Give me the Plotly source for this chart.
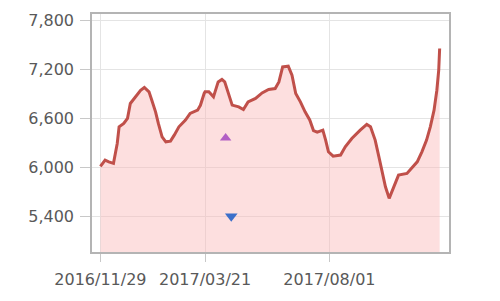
import plotly.graph_objects as go

dates = [
    "2016-11-29", "2016-12-04", "2016-12-08", "2016-12-13", "2016-12-17", "2016-12-19",
    "2016-12-24", "2016-12-28", "2016-12-31", "2017-01-04", "2017-01-11", "2017-01-15",
    "2017-01-20", "2017-01-23", "2017-01-27", "2017-01-30", "2017-02-03", "2017-02-07",
    "2017-02-12", "2017-02-16", "2017-02-21", "2017-02-28", "2017-03-05", "2017-03-13",
    "2017-03-16", "2017-03-20", "2017-03-21", "2017-03-25", "2017-03-30", "2017-04-04",
    "2017-04-08", "2017-04-11", "2017-04-15", "2017-04-19", "2017-04-26", "2017-05-01",
    "2017-05-06", "2017-05-14", "2017-05-21", "2017-05-28", "2017-06-04", "2017-06-08",
    "2017-06-12", "2017-06-18", "2017-06-22", "2017-06-26", "2017-07-01", "2017-07-06",
    "2017-07-11", "2017-07-15", "2017-07-19", "2017-07-25", "2017-07-28", "2017-07-31",
    "2017-08-05", "2017-08-13", "2017-08-18", "2017-08-25", "2017-09-03", "2017-09-10",
    "2017-09-14", "2017-09-19", "2017-09-23", "2017-09-27", "2017-09-30", "2017-10-04",
    "2017-10-09", "2017-10-14", "2017-10-23", "2017-10-29", "2017-11-03", "2017-11-08",
    "2017-11-13", "2017-11-17", "2017-11-21", "2017-11-24", "2017-11-26", "2017-11-27",
]
prices = [
    6010, 6087, 6066, 6047, 6292, 6496,
    6537, 6600, 6782, 6844, 6945, 6979,
    6925, 6823, 6680, 6537, 6373, 6312,
    6320, 6394, 6496, 6578, 6660, 6700,
    6760, 6905, 6925, 6925, 6863, 7047,
    7077, 7047, 6905, 6762, 6741, 6709,
    6802, 6844, 6912, 6954, 6966, 7047,
    7231, 7240, 7129, 6905, 6802, 6680,
    6580, 6450, 6430, 6455, 6333, 6189,
    6136, 6149, 6250, 6353, 6455, 6525,
    6496, 6333, 6128, 5924, 5760, 5618,
    5760, 5903, 5924, 6005, 6066, 6189,
    6333, 6496, 6700, 6945, 7190, 7457,
]

buy_dates = ["2017-04-12"]
buy_values = [6360]
sell_dates = ["2017-04-18"]
sell_values = [5400]

x_tickvals = ["2016-11-29", "2017-03-21", "2017-08-01"]
x_ticktext = ["2016/11/29", "2017/03/21", "2017/08/01"]
y_tickvals = [5400, 6000, 6600, 7200, 7800]
y_ticktext = ["5,400", "6,000", "6,600", "7,200", "7,800"]

fig = go.Figure()
fig.add_trace(go.Scatter(
    x=dates, y=prices, mode="lines",
    line=dict(color="#c0504a", width=3),
    fill="tozeroy", fillcolor="rgba(250,185,185,0.45)",
    hoverinfo="skip",
))
fig.add_trace(go.Scatter(
    x=buy_dates, y=buy_values, mode="markers",
    marker=dict(symbol="triangle-up", size=10, color="#b25fc4"),
))
fig.add_trace(go.Scatter(
    x=sell_dates, y=sell_values, mode="markers",
    marker=dict(symbol="triangle-down", size=11, color="#3b6fca"),
))

axis_font = dict(family="DejaVu Sans", size=16, color="#595959")
fig.update_layout(
    width=500, height=301,
    margin=dict(l=92, r=51, t=14, b=49),
    paper_bgcolor="white", plot_bgcolor="white",
    showlegend=False,
    xaxis=dict(
        range=["2016-11-20", "2017-12-07"],
        tickvals=x_tickvals, ticktext=x_ticktext,
        showgrid=True, gridcolor="#e4e4e4", gridwidth=1,
        ticks="outside", ticklen=8, tickcolor="#c8c8c8",
        ticklabelstandoff=4,
        showline=True, linecolor="#b4b4b4", linewidth=1.5, mirror=True,
        tickfont=axis_font, zeroline=False,
    ),
    yaxis=dict(
        range=[4960, 7880],
        tickvals=y_tickvals, ticktext=y_ticktext,
        showgrid=True, gridcolor="#e4e4e4", gridwidth=1,
        ticks="outside", ticklen=10, tickcolor="#c8c8c8",
        ticklabelstandoff=3,
        showline=True, linecolor="#b4b4b4", linewidth=1.5, mirror=True,
        tickfont=axis_font, zeroline=False,
    ),
)

fig.write_html("out.html")
